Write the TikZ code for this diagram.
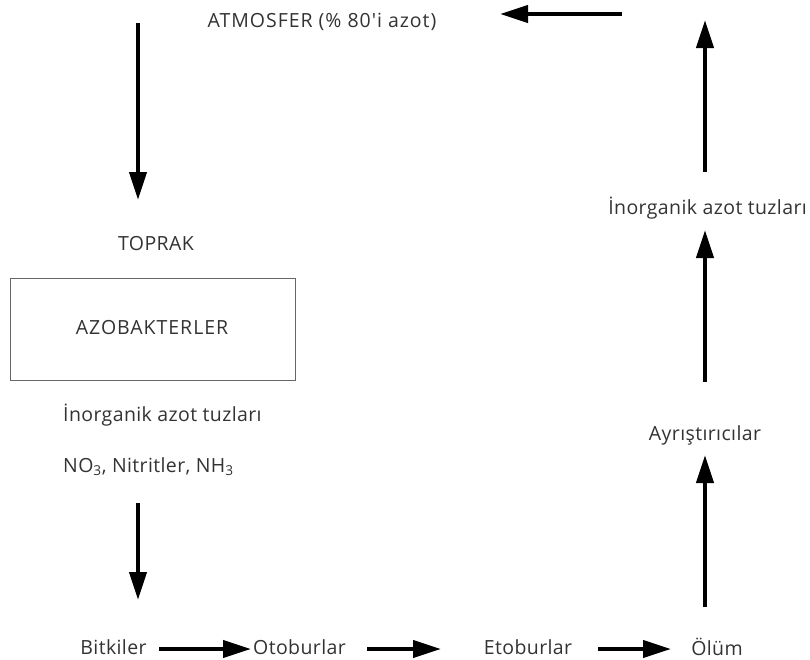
\documentclass[tikz,border=0pt]{standalone}
\usepackage{fontspec}
\setmainfont[LetterSpace=2]{Open Sans}
\newfontfamily\capsfont[LetterSpace=5]{Open Sans}
\usetikzlibrary{arrows.meta}
\begin{document}
\begin{tikzpicture}[x=1pt,y=-1pt,
  lbl/.style={text=black!80,font=\fontsize{19.5}{22}\selectfont,inner sep=0pt},
  caps/.style={lbl,font=\capsfont\fontsize{19.5}{22}\selectfont},
  flow/.style={line width=4pt,-{Triangle[length=28pt,width=17pt]}},
  panel/.style={draw=black!60,line width=0.8pt}]
\useasboundingbox (0,0) rectangle (810,659);
% labels
\node[caps] (atm) at (322,22) {ATMOSFER (\% 80'i azot)};
\node[lbl] (toprak) at (156,244) {TOPRAK};
\node[panel,minimum width=285pt,minimum height=102pt] (box) at (152.5,329) {};
\node[caps] (azo) at (152,328) {AZOBAKTERLER};
\node[lbl,anchor=west] (inorgL) at (63,415) {İnorganik azot tuzları};
\node[lbl,anchor=west] (nitr) at (63,467) {NO\textsubscript{3}, Nitritler, NH\textsubscript{3}};
\node[lbl,anchor=east] (inorgR) at (807,208) {İnorganik azot tuzları};
\node[lbl] (ayr) at (705,435) {Ayrıştırıcılar};
\node[lbl] (bit) at (113.5,647) {Bitkiler};
\node[lbl,anchor=west] (oto) at (253,647) {Otoburlar};
\node[lbl] (eto) at (528,647) {Etoburlar};
\node[lbl] (olum) at (717,647) {Ölüm};
% arrow end points
\coordinate (a1s) at (138,23);  \coordinate (a1e) at (138,200);
\coordinate (a2s) at (138,503); \coordinate (a2e) at (138,600);
\coordinate (b1s) at (159,649); \coordinate (b1e) at (251,649);
\coordinate (b2s) at (367,649); \coordinate (b2e) at (441,649);
\coordinate (b3s) at (598,649); \coordinate (b3e) at (671,649);
\coordinate (r1s) at (705,607); \coordinate (r1e) at (705,455);
\coordinate (r2s) at (705,382); \coordinate (r2e) at (705,230);
\coordinate (r3s) at (705,172); \coordinate (r3e) at (705,20);
\coordinate (ts) at (622,14);   \coordinate (te) at (500,14);
% arrows
\draw[flow] (a1s) -- (a1e);
\draw[flow] (a2s) -- (a2e);
\draw[flow] (b1s) -- (b1e);
\draw[flow] (b2s) -- (b2e);
\draw[flow] (b3s) -- (b3e);
\draw[flow] (r1s) -- (r1e);
\draw[flow] (r2s) -- (r2e);
\draw[flow] (r3s) -- (r3e);
\draw[flow] (ts) -- (te);
\end{tikzpicture}
\end{document}
